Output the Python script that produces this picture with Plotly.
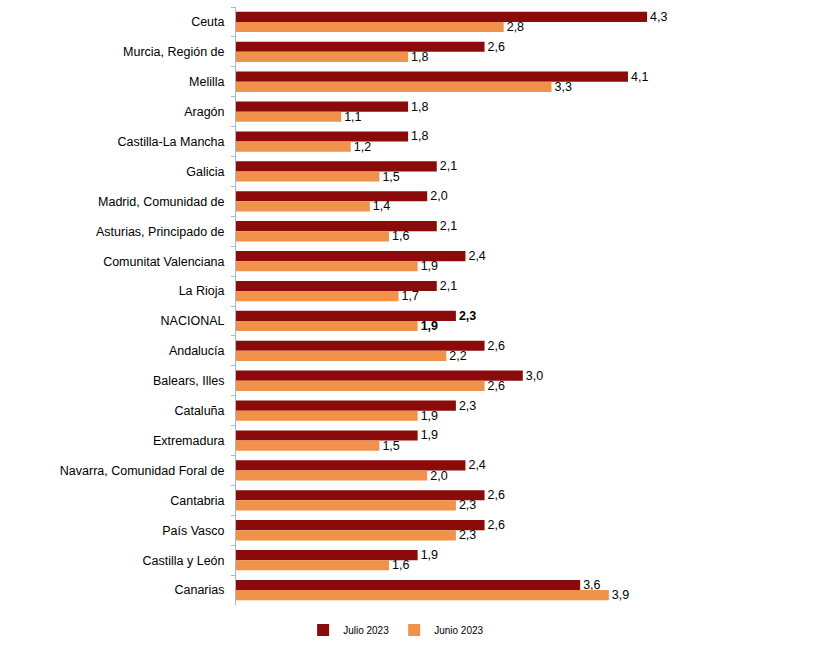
import plotly.graph_objects as go

categories = ["Ceuta", "Murcia, Región de", "Melilla", "Aragón", "Castilla-La Mancha",
              "Galicia", "Madrid, Comunidad de", "Asturias, Principado de",
              "Comunitat Valenciana", "La Rioja", "NACIONAL", "Andalucía",
              "Balears, Illes", "Cataluña", "Extremadura", "Navarra, Comunidad Foral de",
              "Cantabria", "País Vasco", "Castilla y León", "Canarias"]
julio = [4.3, 2.6, 4.1, 1.8, 1.8, 2.1, 2.0, 2.1, 2.4, 2.1, 2.3, 2.6, 3.0, 2.3, 1.9, 2.4, 2.6, 2.6, 1.9, 3.6]
junio = [2.8, 1.8, 3.3, 1.1, 1.2, 1.5, 1.4, 1.6, 1.9, 1.7, 1.9, 2.2, 2.6, 1.9, 1.5, 2.0, 2.3, 2.3, 1.6, 3.9]
series_names = ["Julio 2023", "Junio 2023"]
colors = ["#8B0A0A", "#F0924A"]


def fmt(v, cat):
    s = f"{v:.1f}".replace(".", ",")
    return f"<b>{s}</b>" if cat == "NACIONAL" else s


fig = go.Figure()
for name, vals, col in zip(series_names, [julio, junio], colors):
    fig.add_trace(go.Bar(
        y=categories, x=vals, name=name, orientation="h",
        marker=dict(color=col, line=dict(width=0)),
        text=[fmt(v, c) for v, c in zip(vals, categories)],
        textposition="outside", cliponaxis=False, constraintext="none",
        textfont=dict(family="Liberation Sans, Arial", size=12.5, color="#000000"),
    ))

fig.update_layout(
    width=813, height=651,
    margin=dict(l=236, r=99, t=7, b=46, autoexpand=False),
    barmode="group", bargap=0.32, bargroupgap=0.0,
    plot_bgcolor="white", paper_bgcolor="white",
    font=dict(family="Liberation Sans, Arial", size=12.5, color="#000000"),
    showlegend=True,
    legend=dict(orientation="h", x=0.335, xanchor="center",
                y=-0.042, yanchor="middle",
                font=dict(size=10), itemwidth=30, traceorder="normal"),
    xaxis=dict(range=[0, 5], showgrid=False, showline=False, zeroline=False,
               showticklabels=False, ticks=""),
    yaxis=dict(autorange="reversed", categoryorder="array", categoryarray=categories,
               showline=True, linecolor="#A6B8CC", linewidth=1,
               ticks="outside", tickson="boundaries", ticklen=4, tickcolor="#A6B8CC",
               showgrid=False, ticklabelstandoff=8),
)

fig.write_html("out.html")
